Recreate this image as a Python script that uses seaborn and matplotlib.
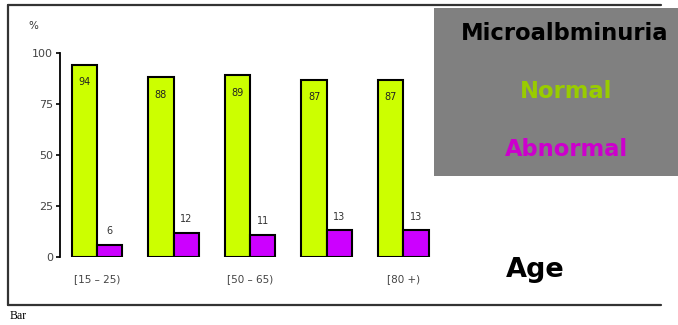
import matplotlib
matplotlib.use("Agg")
import matplotlib.pyplot as plt
from matplotlib.lines import Line2D
from matplotlib.patches import Rectangle
import pandas as pd
import seaborn as sns

# Age groups and share of patients (%) by microalbuminuria status
age_groups = ["[15 – 25)", "[25 – 50)", "[50 – 65)", "[65 – 80)", "[80 +)"]
tick_labels = ["[15 – 25)", "", "[50 – 65)", "", "[80 +)"]
normal = [94, 88, 89, 87, 87]
abnormal = [6, 12, 11, 13, 13]
status = ["Normal", "Abnormal"]
y_ticks = [0, 25, 50, 75, 100]

df = pd.DataFrame({
    "age": age_groups * 2,
    "status": [status[0]] * len(age_groups) + [status[1]] * len(age_groups),
    "pct": normal + abnormal,
})

sns.set_theme(style="white")
plt.rcParams["font.family"] = ["DejaVu Sans"]

W, H = 678, 325
fig = plt.figure(figsize=(W / 100, H / 100), dpi=100)
ax = fig.add_axes([60 / W, 68 / H, 380 / W, 204 / H])

sns.barplot(data=df, x="age", y="pct", hue="status", order=age_groups,
            hue_order=status, palette=["#ccff00", "#cc00ff"], saturation=1,
            width=0.66, edgecolor="black", linewidth=1.5, legend=False, ax=ax)

ax.set_xlim(-0.484, 4.48)
ax.set_ylim(0, 100)
ax.set_yticks(y_ticks)
ax.set_xticks(range(len(age_groups)))
ax.set_xticklabels(tick_labels)
ax.set_xlabel("")
ax.set_ylabel("")
for side in ["top", "right", "bottom"]:
    ax.spines[side].set_visible(False)
ax.spines["left"].set_color("black")
ax.spines["left"].set_linewidth(1.3)
ax.tick_params(axis="y", left=True, length=3, width=1.2, color="black",
               pad=2, labelsize=8, labelcolor="#444444")
ax.tick_params(axis="x", length=0, pad=12, labelsize=7.5, labelcolor="#444444")

# value labels: inside the top of the green bars, above the purple bars
ax.bar_label(ax.containers[0], fmt="%d", padding=-16, fontsize=7,
             color="#222222")
ax.bar_label(ax.containers[1], fmt="%d", padding=6, fontsize=7,
             color="#333333")

fig.text(33 / W, 1 - 26 / H, "%", ha="center", va="center", fontsize=7.5,
         color="#333333")

# frame lines around the chart
frame = dict(color="#333333", linewidth=1.6, transform=fig.transFigure)
fig.add_artist(Line2D([8 / W, 661 / W], [1 - 5 / H, 1 - 5 / H], **frame))
fig.add_artist(Line2D([8 / W, 661 / W], [1 - 305 / H, 1 - 305 / H], **frame))
fig.add_artist(Line2D([8 / W, 8 / W], [1 - 5 / H, 1 - 305 / H], **frame))

fig.text(10 / W, 1 - 316 / H, "Bar", ha="left", va="center", fontsize=8.5,
         family="Liberation Serif", color="black")

# legend panel
fig.add_artist(Rectangle((434 / W, 1 - 176 / H), 244 / W, 168 / H,
                         facecolor="#808080", edgecolor="none",
                         transform=fig.transFigure))
fig.text(565 / W, 1 - 33 / H, "Microalbminuria", ha="center", va="center",
         fontsize=16.3, fontweight="bold", color="black")
fig.text(566 / W, 1 - 92 / H, "Normal", ha="center", va="center",
         fontsize=16.3, fontweight="bold", color="#99cc00")
fig.text(566 / W, 1 - 150 / H, "Abnormal", ha="center", va="center",
         fontsize=16.3, fontweight="bold", color="#cc00cc")

fig.text(535 / W, 1 - 270 / H, "Age", ha="center", va="center",
         fontsize=19.5, fontweight="bold", color="black")

fig.savefig("out.png", dpi=100, facecolor="white")
